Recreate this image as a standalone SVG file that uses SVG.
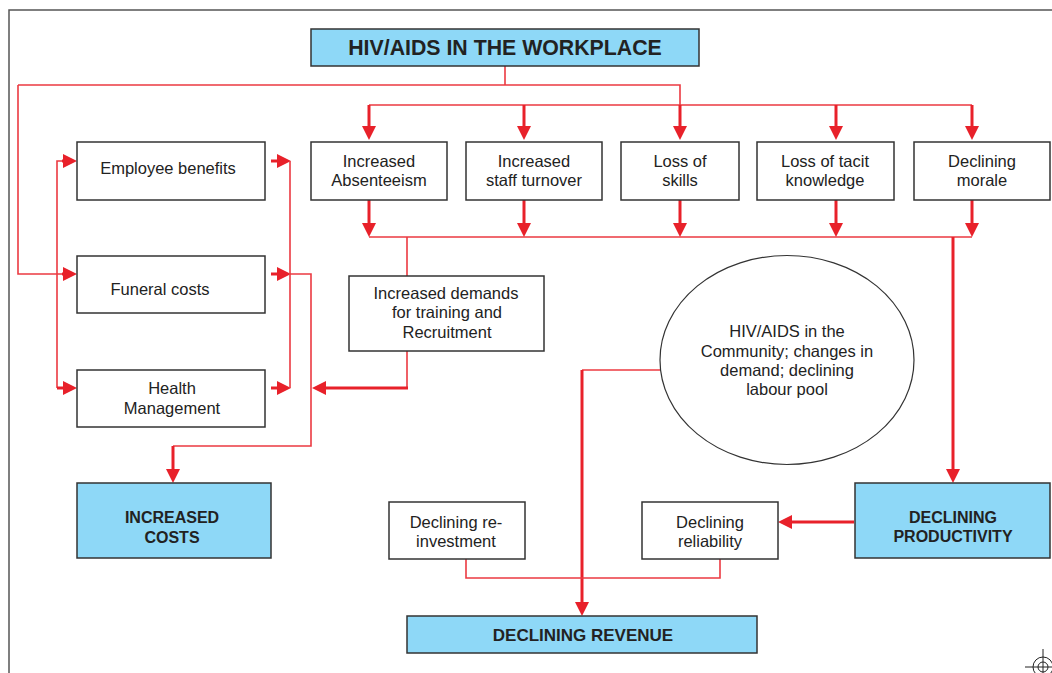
<svg xmlns="http://www.w3.org/2000/svg" width="1052" height="673" viewBox="0 0 1052 673">
<defs>
<style>
.box{fill:#fff;stroke:#333;stroke-width:1.5}
.hl{fill:#8ED8F7;stroke:#333;stroke-width:1.5}
.t{font-family:"Liberation Sans",Arial,sans-serif;font-size:16.5px;fill:#222;text-anchor:middle}
.b{font-family:"Liberation Sans",Arial,sans-serif;font-size:16px;font-weight:bold;fill:#222;text-anchor:middle}
.thin{fill:none;stroke:#EC3A41;stroke-width:1.6}
.thick{fill:none;stroke:#E8212A;stroke-width:3;marker-end:url(#ah)}
.frame{fill:none;stroke:#555;stroke-width:1.5}
</style>
<marker id="ah" markerUnits="userSpaceOnUse" markerWidth="14" markerHeight="14" refX="10" refY="7" orient="auto">
<path d="M0,0 L14,7 L0,14 z" fill="#E8212A"/>
</marker>
</defs>
<rect width="1052" height="673" fill="#fff"/>
<path class="frame" d="M9,673 V10 H1052"/>
<g id="regmark" fill="none" stroke="#222" stroke-width="1">
<circle cx="1043" cy="667" r="10"/>
<circle cx="1043" cy="667" r="5"/>
<path d="M1025,667 H1052 M1043,649 V673"/>
</g>

<g id="connectors">
<path class="thin" d="M505,66 V85 M18,85 H680 V105 M369,105 H972 M369,237 H972"/>
<path class="thick" d="M369,105 V136"/>
<path class="thick" d="M524,105 V136"/>
<path class="thick" d="M680,105 V136"/>
<path class="thick" d="M836,105 V136"/>
<path class="thick" d="M972,105 V136"/>
<path class="thick" d="M369,200 V233"/>
<path class="thick" d="M524,200 V233"/>
<path class="thick" d="M680,200 V233"/>
<path class="thick" d="M836,200 V233"/>
<path class="thick" d="M972,200 V233"/>
<path class="thin" d="M18,85 V274 H66"/>
<path class="thick" d="M62,274 H73"/>
<path class="thin" d="M57,388 V161 H66"/>
<path class="thick" d="M62,161 H73"/>
<path class="thick" d="M57,388 H73"/>
<path class="thick" d="M271,161 H287"/>
<path class="thick" d="M271,274 H287"/>
<path class="thick" d="M271,388 H287"/>
<path class="thin" d="M290,161 V388 M290,274 H311 V446 H173"/>
<path class="thick" d="M173,446 V479"/>
<path class="thin" d="M407,237 V276 M407,351 V388"/>
<path class="thick" d="M408,388 H316"/>
<path class="thick" d="M953,237 V479"/>
<path class="thick" d="M854,522 H782"/>
<path class="thin" d="M660,370 H582"/>
<path class="thick" d="M582,370 V612"/>
<path class="thin" d="M466,559 V578 H720 V559"/>
</g>

<g id="n-title"><rect class="hl" x="311" y="29" width="388" height="37"/><text class="b" style="font-size:21.3px" x="505" y="55">HIV/AIDS IN THE WORKPLACE</text></g>
<g id="n-absent"><rect class="box" x="311" y="142" width="136" height="58"/><text class="t" x="379" y="167">Increased</text><text class="t" x="379" y="186">Absenteeism</text></g>
<g id="n-turnover"><rect class="box" x="466" y="142" width="136" height="58"/><text class="t" x="534" y="167">Increased</text><text class="t" x="534" y="186">staff turnover</text></g>
<g id="n-skills"><rect class="box" x="621" y="142" width="118" height="58"/><text class="t" x="680" y="167">Loss of</text><text class="t" x="680" y="186">skills</text></g>
<g id="n-tacit"><rect class="box" x="757" y="142" width="137" height="58"/><text class="t" x="825" y="167">Loss of tacit</text><text class="t" x="825" y="186">knowledge</text></g>
<g id="n-morale"><rect class="box" x="914" y="142" width="136" height="58"/><text class="t" x="982" y="167">Declining</text><text class="t" x="982" y="186">morale</text></g>
<g id="n-benefits"><rect class="box" x="77" y="142" width="188" height="58"/><text class="t" x="168" y="174">Employee benefits</text></g>
<g id="n-funeral"><rect class="box" x="77" y="256" width="188" height="57"/><text class="t" x="160" y="295">Funeral costs</text></g>
<g id="n-health"><rect class="box" x="77" y="370" width="188" height="57"/><text class="t" x="172" y="394">Health</text><text class="t" x="172" y="414">Management</text></g>
<g id="n-demands"><rect class="box" x="349" y="276" width="195" height="75"/><text class="t" x="446" y="299">Increased demands</text><text class="t" x="447" y="318">for training and</text><text class="t" x="447" y="338">Recruitment</text></g>
<g id="n-community"><ellipse cx="787" cy="360" rx="127" ry="104.5" fill="#fff" stroke="#333" stroke-width="1.2"/><text class="t" x="787" y="337">HIV/AIDS in the</text><text class="t" x="787" y="357">Community; changes in</text><text class="t" x="787" y="376">demand; declining</text><text class="t" x="787" y="395">labour pool</text></g>
<g id="n-costs"><rect class="hl" x="77" y="483" width="194" height="75"/><text class="b" x="172" y="523">INCREASED</text><text class="b" x="172" y="543">COSTS</text></g>
<g id="n-productivity"><rect class="hl" x="855" y="483" width="195" height="75"/><text class="b" x="953" y="523">DECLINING</text><text class="b" x="953" y="542">PRODUCTIVITY</text></g>
<g id="n-reinvest"><rect class="box" x="389" y="502" width="136" height="57"/><text class="t" x="456" y="528">Declining re-</text><text class="t" x="456" y="547">investment</text></g>
<g id="n-reliability"><rect class="box" x="642" y="502" width="136" height="57"/><text class="t" x="710" y="528">Declining</text><text class="t" x="710" y="547">reliability</text></g>
<g id="n-revenue"><rect class="hl" x="407" y="616" width="350" height="37"/><text class="b" style="font-size:17px" x="583" y="641">DECLINING REVENUE</text></g>
</svg>
